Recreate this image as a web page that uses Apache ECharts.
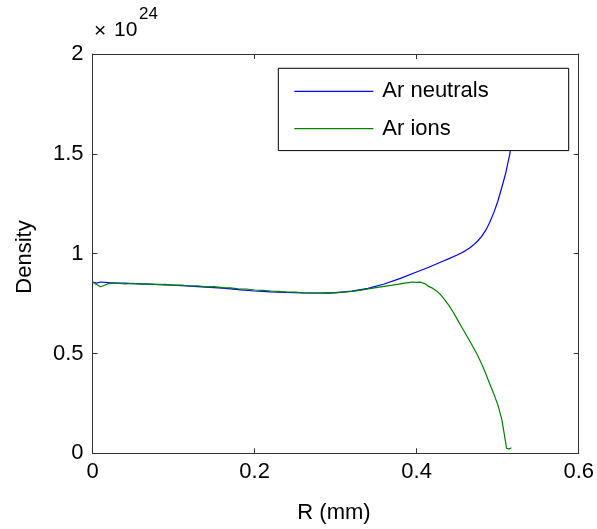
<!DOCTYPE html>
<html>
<head>
<meta charset="utf-8">
<script src="https://cdn.jsdelivr.net/npm/echarts@6/dist/echarts.min.js"></script>
<style>
html,body{margin:0;padding:0;background:#fff;}
#c{width:597px;height:529px;}
</style>
</head>
<body>
<div id="c"></div>
<script>
// Radius (mm) and density (x 1e24) for neutrals
const rNeutral = [0, 0.005, 0.01, 0.02, 0.03, 0.04, 0.05, 0.06, 0.07, 0.08, 0.09, 0.10, 0.12, 0.14, 0.16, 0.18, 0.20, 0.22, 0.24, 0.26, 0.28, 0.30, 0.32, 0.34, 0.36, 0.38, 0.40, 0.415, 0.43, 0.44, 0.45, 0.455, 0.46, 0.465, 0.47, 0.475, 0.48, 0.485, 0.49, 0.495, 0.50, 0.505, 0.51, 0.515, 0.52];
const neutral  = [0.857, 0.852, 0.858, 0.855, 0.853, 0.852, 0.850, 0.849, 0.847, 0.846, 0.844, 0.842, 0.837, 0.832, 0.827, 0.820, 0.813, 0.809, 0.806, 0.804, 0.803, 0.805, 0.812, 0.826, 0.848, 0.876, 0.908, 0.932, 0.958, 0.975, 0.993, 1.003, 1.014, 1.027, 1.043, 1.062, 1.085, 1.115, 1.155, 1.203, 1.260, 1.330, 1.405, 1.500, 1.620];
// Radius (mm) and density (x 1e24) for ions
const rIon = [0, 0.005, 0.01, 0.015, 0.02, 0.03, 0.04, 0.05, 0.06, 0.07, 0.08, 0.09, 0.10, 0.11, 0.12, 0.13, 0.14, 0.15, 0.16, 0.17, 0.18, 0.19, 0.20, 0.21, 0.22, 0.23, 0.24, 0.25, 0.26, 0.27, 0.28, 0.29, 0.30, 0.31, 0.32, 0.33, 0.34, 0.35, 0.36, 0.37, 0.38, 0.385, 0.39, 0.395, 0.40, 0.405, 0.41, 0.415, 0.42, 0.425, 0.43, 0.435, 0.44, 0.445, 0.45, 0.455, 0.46, 0.465, 0.47, 0.475, 0.48, 0.485, 0.49, 0.495, 0.50, 0.505, 0.508, 0.511, 0.514, 0.517];
const ion  = [0.858, 0.845, 0.834, 0.842, 0.850, 0.852, 0.848, 0.851, 0.847, 0.849, 0.845, 0.846, 0.841, 0.843, 0.838, 0.839, 0.834, 0.835, 0.830, 0.829, 0.824, 0.823, 0.818, 0.816, 0.813, 0.811, 0.808, 0.807, 0.804, 0.802, 0.802, 0.801, 0.804, 0.807, 0.811, 0.816, 0.824, 0.830, 0.836, 0.842, 0.849, 0.852, 0.855, 0.858, 0.856, 0.857, 0.850, 0.836, 0.826, 0.812, 0.792, 0.767, 0.740, 0.708, 0.672, 0.636, 0.601, 0.566, 0.530, 0.492, 0.450, 0.402, 0.350, 0.300, 0.245, 0.172, 0.100, 0.025, 0.022, 0.028];
const xTicks = [0, 0.2, 0.4, 0.6];
const yTicks = [0, 0.5, 1, 1.5, 2];
const seriesNames = ['Ar neutrals', 'Ar ions'];

const FONT = 'Liberation Sans, Arial, sans-serif';
const AX = '#333333';
const fmt = v => String(Math.round(v * 10) / 10);
// thin horizontal bar spanning the full icon box (corner specks keep the box size)
const LINE_ICON = 'path://M0,0L0.01,0L0.01,0.01Z M0,10.4L79,10.4L79,11.6L0,11.6Z M0,22L0.01,22L0.01,21.99Z';

const chart = echarts.init(document.getElementById('c'), null, {renderer: 'canvas'});
const baseX = {
  type: 'value', min: xTicks[0], max: xTicks[xTicks.length - 1], interval: 0.2,
  axisLine: {show: true, onZero: false, lineStyle: {color: AX, width: 1}},
  axisTick: {show: true, inside: true, length: 5, lineStyle: {color: AX}},
  splitLine: {show: false}
};
const baseY = {
  type: 'value', min: yTicks[0], max: yTicks[yTicks.length - 1], interval: 0.5,
  axisLine: {show: true, onZero: false, lineStyle: {color: AX, width: 1}},
  axisTick: {show: true, inside: true, length: 5, lineStyle: {color: AX}},
  splitLine: {show: false}
};
chart.setOption({
  animation: false,
  backgroundColor: '#fff',
  grid: {left: 92.5, right: 17.5, top: 54, bottom: 75.7, containLabel: false},
  xAxis: [
    Object.assign({}, baseX, {position: 'bottom',
      axisLabel: {show: true, color: '#000', fontFamily: FONT, fontSize: 22, margin: 8, formatter: fmt}}),
    Object.assign({}, baseX, {position: 'top', axisLabel: {show: false}})
  ],
  yAxis: [
    Object.assign({}, baseY, {position: 'left',
      axisLabel: {show: true, color: '#000', fontFamily: FONT, fontSize: 22, margin: 9, formatter: fmt}}),
    Object.assign({}, baseY, {position: 'right', axisLabel: {show: false}})
  ],
  legend: {
    orient: 'vertical', left: 278.3, top: 68.3,
    padding: [12, 80, 11, 16],
    itemWidth: 79, itemHeight: 22, itemGap: 15.3,
    icon: LINE_ICON,
    backgroundColor: '#fff', borderColor: '#000', borderWidth: 1,
    textStyle: {color: '#000', fontFamily: FONT, fontSize: 22, padding: [0, 0, 0, 4]},
    data: seriesNames
  },
  graphic: [
    {type: 'text', x: 25, y: 257, rotation: Math.PI / 2,
      style: {text: 'Density', fontFamily: FONT, fontSize: 22, fill: '#000', textAlign: 'center', textVerticalAlign: 'middle'}},
    {type: 'text', x: 334, y: 513,
      style: {text: 'R (mm)', fontFamily: FONT, fontSize: 22, fill: '#000', textAlign: 'center', textVerticalAlign: 'middle'}},
    {type: 'text', x: 94, y: 42,
      style: {text: '×', fontFamily: FONT, fontSize: 21, fill: '#000', textAlign: 'left', textVerticalAlign: 'bottom'}},
    {type: 'text', x: 114, y: 41,
      style: {text: '10', fontFamily: FONT, fontSize: 21, fill: '#000', textAlign: 'left', textVerticalAlign: 'bottom'}},
    {type: 'text', x: 139, y: 23,
      style: {text: '24', fontFamily: FONT, fontSize: 17, fill: '#000', textAlign: 'left', textVerticalAlign: 'bottom'}}
  ],
  series: [
    {name: seriesNames[0], type: 'line', symbol: 'none', color: '#0000ff',
      lineStyle: {color: '#0000ff', width: 1.2}, data: rNeutral.map((r, i) => [r, neutral[i]]), z: 2},
    {name: seriesNames[1], type: 'line', symbol: 'none', color: '#008000',
      lineStyle: {color: '#008000', width: 1.2}, data: rIon.map((r, i) => [r, ion[i]]), z: 3}
  ]
});
</script>
</body>
</html>
